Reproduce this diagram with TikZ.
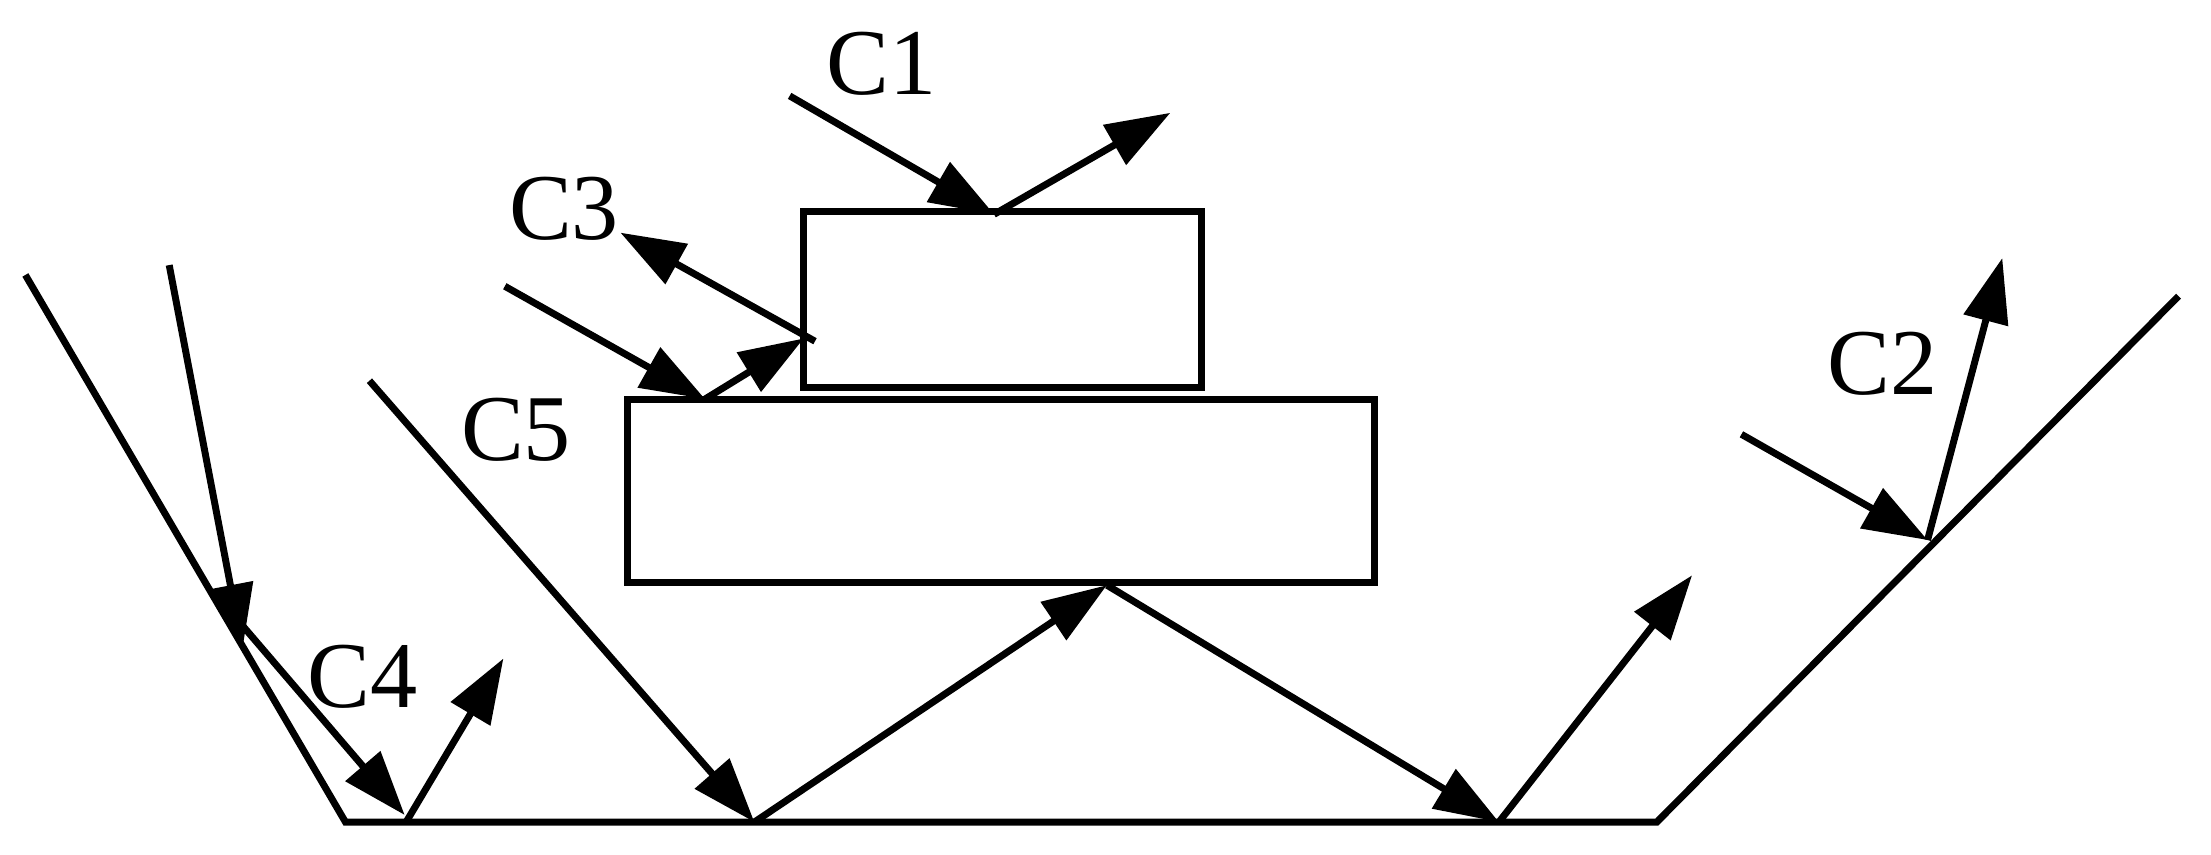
\documentclass[tikz,border=0pt]{standalone}
\usepackage{fontspec}
\setmainfont{Liberation Serif}
\usetikzlibrary{arrows.meta}
\begin{document}
\begin{tikzpicture}[x=0.01cm,y=-0.01cm,line width=1.4pt,
    ray/.style={-{Triangle[length=13pt,width=9pt]}},
    lbl/.style={font=\fontsize{19}{21}\selectfont}]
    \useasboundingbox (0,0) rectangle (1568,606);
    % trough
    \coordinate (tl) at (18,195);
    \coordinate (bl) at (245,583);
    \coordinate (br) at (1175,583);
    \coordinate (tr) at (1545,210);
    \draw (tl) -- (bl) -- (br) -- (tr);
    % blocks
    \draw (570,150) rectangle (852,275);
    \draw (445,283) rectangle (975,413);
    % C1
    \coordinate (c1s) at (560,68);
    \coordinate (c1p) at (705,152);
    \coordinate (c1e) at (830,80);
    \draw[ray] (c1s) -- (c1p);
    \draw[ray] (c1p) -- (c1e);
    \node[lbl] (lc1) at (625,45) {C1};
    % C3
    \coordinate (c3s) at (358,203);
    \coordinate (c3p) at (500,283);
    \coordinate (c3q) at (570,240);
    \coordinate (c3r) at (578,242);
    \coordinate (c3e) at (440,165);
    \draw[ray] (c3s) -- (c3p);
    \draw[ray] (c3p) -- (c3q);
    \draw[ray] (c3r) -- (c3e);
    \node[lbl] (lc3) at (400,148) {C3};
    % C5
    \coordinate (c5s) at (262,270);
    \coordinate (c5a) at (535,583);
    \coordinate (c5b) at (785,415);
    \coordinate (c5c) at (1063,583);
    \coordinate (c5e) at (1200,408);
    \draw[ray] (c5s) -- (c5a);
    \draw[ray] (c5a) -- (c5b);
    \draw[ray] (c5b) -- (c5c);
    \draw[ray] (c5c) -- (c5e);
    \node[lbl] (lc5) at (366,305) {C5};
    % C4
    \coordinate (c4s) at (120,188);
    \coordinate (c4a) at (172,460);
    \coordinate (c4b) at (162,432);
    \coordinate (c4c) at (287,578);
    \coordinate (c4d) at (288,583);
    \coordinate (c4e) at (357,467);
    \draw[ray] (c4s) -- (c4a);
    \draw[ray] (c4b) -- (c4c);
    \draw[ray] (c4d) -- (c4e);
    \node[lbl] (lc4) at (257,480) {C4};
    % C2
    \coordinate (c2s) at (1235,308);
    \coordinate (c2p) at (1367,383);
    \coordinate (c2e) at (1420,183);
    \draw[ray] (c2s) -- (c2p);
    \draw[ray] (c2p) -- (c2e);
    \node[lbl] (lc2) at (1335,258) {C2};
\end{tikzpicture}
\end{document}
